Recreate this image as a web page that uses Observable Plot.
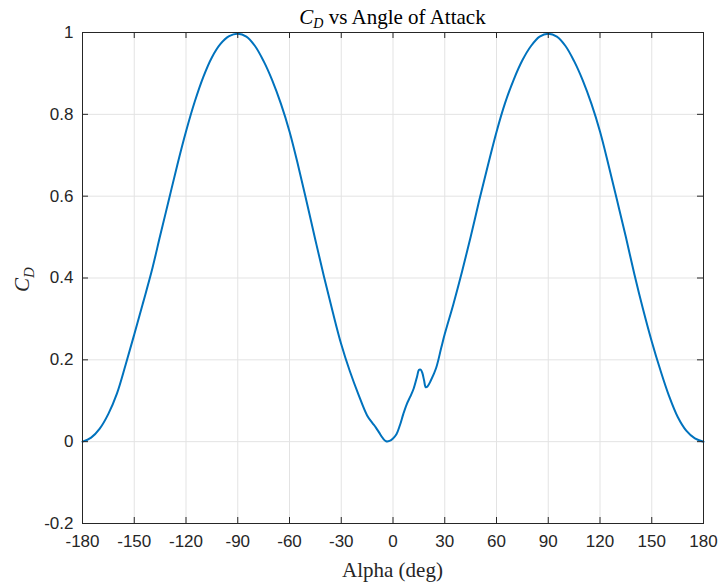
<!DOCTYPE html>
<html>
<head>
<meta charset="utf-8">
<script src="https://cdn.jsdelivr.net/npm/d3@7"></script>
<script src="https://cdn.jsdelivr.net/npm/@observablehq/plot@0.6"></script>
<style>
  html, body { margin: 0; padding: 0; background: #fff; }
  #chart svg { display: block; }
</style>
</head>
<body>
<div id="chart"></div>
<script>
// Angle of attack (deg)
const alphaDeg = [
  -180, -175, -170, -165, -160, -155, -150, -145, -140, -135, -130, -125, -120,
  -115, -110, -105, -100, -95, -90, -85, -80, -75, -70, -65, -60, -55, -50,
  -45, -40, -35, -30, -25, -20, -15, -12, -10, -8, -6, -4, -2,
  0, 2, 4, 6, 8, 10, 12, 14, 15, 16, 17, 18, 19, 20, 22, 25, 28, 30,
  35, 40, 45, 50, 55, 60, 65, 70, 75, 80, 85, 90, 95, 100, 105, 110, 115,
  120, 125, 130, 135, 140, 145, 150, 155, 160, 165, 170, 175, 180
];
// Drag coefficient C_D
const cdValues = [
  0.000, 0.010, 0.032, 0.068, 0.118, 0.188, 0.262, 0.338, 0.415, 0.503, 0.590, 0.677, 0.758,
  0.830, 0.891, 0.939, 0.972, 0.991, 0.997, 0.990, 0.967, 0.930, 0.883, 0.826, 0.758, 0.675, 0.585,
  0.493, 0.403, 0.318, 0.238, 0.172, 0.115, 0.064, 0.046, 0.035, 0.022, 0.009, 0.001, 0.002,
  0.008, 0.018, 0.040, 0.068, 0.092, 0.110, 0.130, 0.160, 0.175, 0.176, 0.168, 0.150, 0.133, 0.135, 0.150, 0.180, 0.230, 0.263,
  0.336, 0.415, 0.500, 0.590, 0.675, 0.757, 0.828, 0.885, 0.932, 0.967, 0.990, 0.997, 0.990, 0.967, 0.930, 0.883, 0.826,
  0.758, 0.675, 0.588, 0.500, 0.408, 0.323, 0.245, 0.175, 0.112, 0.061, 0.027, 0.008, 0.000
];
const xTicks = [-180, -150, -120, -90, -60, -30, 0, 30, 60, 90, 120, 150, 180];
const yTicks = [-0.2, 0, 0.2, 0.4, 0.6, 0.8, 1];
const titleMain = "C";
const titleSub = "D";
const titleRest = " vs Angle of Attack";
const xLabel = "Alpha (deg)";

const data = alphaDeg.map((a, i) => ({alpha: a, cd: cdValues[i]}));

const W = 723, H = 588;
const mL = 82, mR = 20, mT = 32, mB = 65;
const innerW = W - mL - mR, innerH = H - mT - mB;
const tickLen = 6;
const axisColor = "#262626";
const gridColor = "#e3e3e3";

const svg = Plot.plot({
  width: W,
  height: H,
  marginTop: mT,
  marginBottom: mB,
  marginLeft: mL,
  marginRight: mR,
  style: {fontFamily: "'Liberation Sans', Arial, sans-serif", fontSize: "17px", color: axisColor, background: "#fff"},
  x: {domain: [-180, 180]},
  y: {domain: [-0.2, 1]},
  marks: [
    Plot.gridX(xTicks, {stroke: gridColor, strokeOpacity: 1}),
    Plot.gridY(yTicks, {stroke: gridColor, strokeOpacity: 1}),
    Plot.line(data, {x: "alpha", y: "cd", stroke: "#0072BD", strokeWidth: 2, curve: "catmull-rom"}),
    Plot.frame({stroke: axisColor, strokeWidth: 1}),
    // inward tick marks on all four sides
    Plot.tickX(xTicks, {x: d => d, stroke: axisColor, strokeWidth: 1, insetTop: innerH - tickLen}),
    Plot.tickX(xTicks, {x: d => d, stroke: axisColor, strokeWidth: 1, insetBottom: innerH - tickLen}),
    Plot.tickY(yTicks, {y: d => d, stroke: axisColor, strokeWidth: 1, insetRight: innerW - tickLen}),
    Plot.tickY(yTicks, {y: d => d, stroke: axisColor, strokeWidth: 1, insetLeft: innerW - tickLen}),
    Plot.axisX(xTicks, {anchor: "bottom", tickSize: 0, tickPadding: 11, label: null, tickFormat: d => String(d), fill: axisColor}),
    Plot.axisY(yTicks, {anchor: "left", tickSize: 0, tickPadding: 9, label: null, tickFormat: d => String(d), fill: axisColor})
  ]
});

document.getElementById("chart").appendChild(svg);

const s = d3.select(svg);
const serif = "'Liberation Serif', 'Times New Roman', serif";

// Title
const t = s.append("text")
  .attr("x", mL + innerW / 2)
  .attr("y", 24)
  .attr("text-anchor", "middle")
  .attr("font-family", serif)
  .attr("font-size", 21)
  .attr("fill", "#000");
t.append("tspan").attr("font-style", "italic").text(titleMain);
t.append("tspan").attr("font-style", "italic").attr("font-size", 14).attr("dy", 4).text(titleSub);
t.append("tspan").attr("dy", -4).text(titleRest);

// Y label
const yl = s.append("text")
  .attr("transform", `translate(29, ${mT + innerH / 2 + 2}) rotate(-90)`)
  .attr("text-anchor", "middle")
  .attr("font-family", serif)
  .attr("font-size", 21)
  .attr("fill", "#262626");
yl.append("tspan").attr("font-style", "italic").text(titleMain);
yl.append("tspan").attr("font-style", "italic").attr("font-size", 15).attr("dy", 5).text(titleSub);

// X label
s.append("text")
  .attr("x", mL + innerW / 2)
  .attr("y", 577)
  .attr("text-anchor", "middle")
  .attr("font-family", serif)
  .attr("font-size", 21)
  .attr("fill", "#262626")
  .text(xLabel);
</script>
</body>
</html>
